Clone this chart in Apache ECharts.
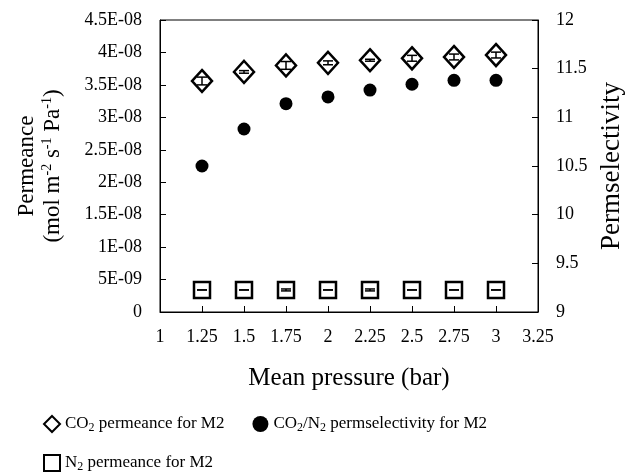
<!DOCTYPE html>
<html><head><meta charset="utf-8">
<script src="https://cdn.jsdelivr.net/npm/echarts@6/dist/echarts.min.js"></script>
<style>html,body{margin:0;padding:0;background:#fff}#c{width:635px;height:473px}</style>
</head><body><div id="c"></div>
<script>
const pressures = [1.25, 1.5, 1.75, 2, 2.25, 2.5, 2.75, 3];
const co2Permeance = [3.56e-8, 3.70e-8, 3.80e-8, 3.84e-8, 3.88e-8, 3.91e-8, 3.93e-8, 3.96e-8];
const co2Error = [6e-10, 2e-10, 6e-10, 3e-10, 1.5e-10, 4.5e-10, 4.5e-10, 4.5e-10];
const n2Permeance = [3.4e-9, 3.4e-9, 3.4e-9, 3.4e-9, 3.4e-9, 3.4e-9, 3.4e-9, 3.4e-9];
const n2Error = [0, 0, 1.5e-10, 0, 1.5e-10, 0, 0, 0];
const permselectivity = [10.50, 10.88, 11.14, 11.21, 11.28, 11.34, 11.38, 11.38];
const leftTicks = ['0','5E-09','1E-08','1.5E-08','2E-08','2.5E-08','3E-08','3.5E-08','4E-08','4.5E-08'];

const FONT = '"Liberation Serif", "Times New Roman", serif';
const chart = echarts.init(document.getElementById('c'));

function errData(vals, errs) {
  return pressures.map((p, i) => [p, vals[i] - errs[i], vals[i] + errs[i]]);
}
function errRender(params, api) {
  const x = api.value(0);
  const lo = api.coord([x, api.value(1)]);
  const hi = api.coord([x, api.value(2)]);
  const w = 5;
  const st = {stroke: '#000', lineWidth: 1.5};
  return {type: 'group', children: [
    {type: 'line', shape: {x1: lo[0], y1: lo[1], x2: hi[0], y2: hi[1]}, style: st},
    {type: 'line', shape: {x1: lo[0]-w, y1: lo[1], x2: lo[0]+w, y2: lo[1]}, style: st},
    {type: 'line', shape: {x1: hi[0]-w, y1: hi[1], x2: hi[0]+w, y2: hi[1]}, style: st}
  ]};
}

const rich = {
  n: {fontFamily: FONT, fontSize: 17, color: '#000'},
  s: {fontFamily: FONT, fontSize: 12, color: '#000', verticalAlign: 'bottom', padding: [8, 0, 0, 0]}
};

chart.setOption({
  animation: false,
  backgroundColor: '#fff',
  textStyle: {fontFamily: FONT},
  grid: {left: 160, right: 97, top: 20, bottom: 161, show: true, borderColor: '#000', borderWidth: 1},
  xAxis: {
    type: 'value', min: 1, max: 3.25, interval: 0.25,
    name: 'Mean pressure (bar)', nameLocation: 'middle', nameGap: 54,
    nameTextStyle: {fontFamily: FONT, fontSize: 25, color: '#000'},
    axisLine: {lineStyle: {color: '#000'}},
    axisTick: {inside: true, length: 6, lineStyle: {color: '#000'}},
    axisLabel: {fontFamily: FONT, fontSize: 18, color: '#000', margin: 16,
      formatter: v => String(+v.toFixed(2))},
    splitLine: {show: false}
  },
  yAxis: [{
    type: 'value', min: 0, max: 4.5e-8, interval: 5e-9,
    name: '{n|Permeance}\n{n|(mol m}{u|-2}{n| s}{u|-1}{n| Pa}{u|-1}{n|)}',
    nameLocation: 'middle', nameGap: 94, nameRotate: 90,
    nameTextStyle: {fontFamily: FONT, fontSize: 23, color: '#000', lineHeight: 26,
      rich: {
        n: {fontFamily: FONT, fontSize: 23, color: '#000', lineHeight: 26},
        u: {fontFamily: FONT, fontSize: 14, color: '#000', verticalAlign: 'top', padding: [0, 0, 8, 0], lineHeight: 26}
      }},
    axisLine: {show: true, lineStyle: {color: '#000'}},
    axisTick: {show: true, inside: true, length: 6, lineStyle: {color: '#000'}},
    axisLabel: {fontFamily: FONT, fontSize: 18, color: '#000', margin: 18,
      formatter: (v) => leftTicks[Math.round(v / 5e-9)]},
    splitLine: {show: false}
  }, {
    type: 'value', min: 9, max: 12, interval: 0.5, position: 'right',
    name: 'Permselectivity', nameLocation: 'middle', nameGap: 54, nameRotate: 90,
    nameTextStyle: {fontFamily: FONT, fontSize: 27, color: '#000'},
    axisLine: {show: true, lineStyle: {color: '#000'}},
    axisTick: {show: true, inside: true, length: 6, lineStyle: {color: '#000'}},
    axisLabel: {fontFamily: FONT, fontSize: 18, color: '#000', margin: 18},
    splitLine: {show: false}
  }],
  legend: [{
    left: 38, top: 410, itemGap: 28, itemWidth: 16, itemHeight: 16,
    data: ['CO2 permeance for M2', 'CO2/N2 permselectivity for M2'],
    textStyle: {rich: rich},
    formatter: name => name === 'CO2 permeance for M2'
      ? '{n|CO}{s|2}{n| permeance for M2}'
      : '{n|CO}{s|2}{n|/N}{s|2}{n| permselectivity for M2}'
  }, {
    left: 38, top: 449, itemWidth: 16, itemHeight: 16,
    data: ['N2 permeance for M2'],
    textStyle: {rich: rich},
    formatter: () => '{n|N}{s|2}{n| permeance for M2}'
  }],
  series: [{
    name: 'CO2 permeance for M2', type: 'scatter', yAxisIndex: 0,
    symbol: 'diamond', symbolSize: [20, 22],
    itemStyle: {color: '#fff', borderColor: '#000', borderWidth: 2.5, opacity: 1},
    data: pressures.map((p, i) => [p, co2Permeance[i]]), z: 3
  }, {
    name: 'CO2/N2 permselectivity for M2', type: 'scatter', yAxisIndex: 1,
    symbol: 'circle', symbolSize: 13,
    itemStyle: {color: '#000', opacity: 1},
    data: pressures.map((p, i) => [p, permselectivity[i]]), z: 3
  }, {
    name: 'N2 permeance for M2', type: 'scatter', yAxisIndex: 0,
    symbol: 'rect', symbolSize: 16,
    itemStyle: {color: '#fff', borderColor: '#000', borderWidth: 2.5, opacity: 1},
    data: pressures.map((p, i) => [p, n2Permeance[i]]), z: 3
  }, {
    type: 'custom', yAxisIndex: 0, renderItem: errRender, z: 5, silent: true,
    data: errData(co2Permeance, co2Error)
  }, {
    type: 'custom', yAxisIndex: 0, renderItem: errRender, z: 5, silent: true,
    data: errData(n2Permeance, n2Error)
  }]
});
</script></body></html>
